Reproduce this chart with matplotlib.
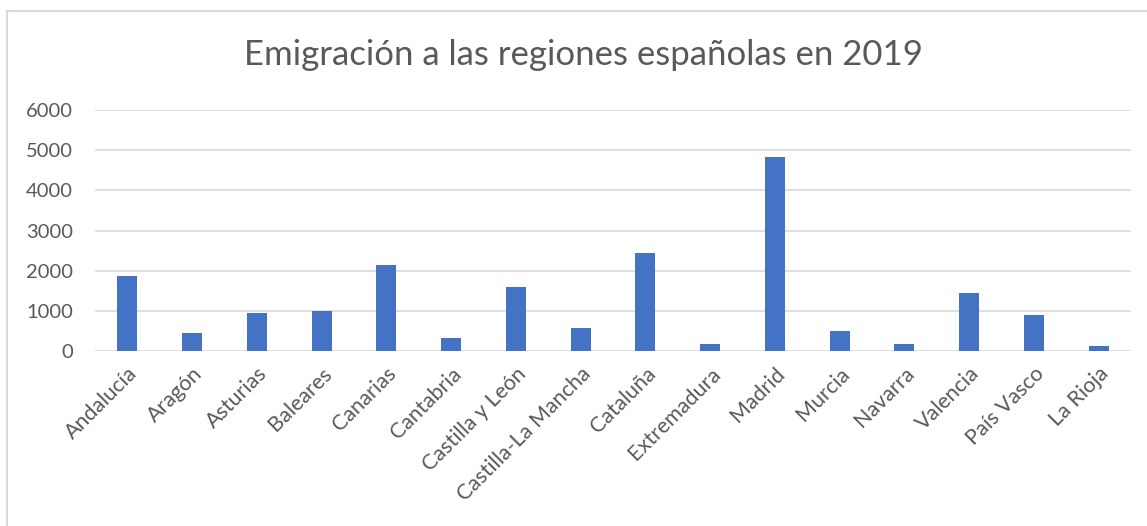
import numpy as np
import matplotlib.pyplot as plt
from matplotlib.lines import Line2D

regions = ['Andalucía', 'Aragón', 'Asturias', 'Baleares', 'Canarias', 'Cantabria',
           'Castilla y León', 'Castilla-La Mancha', 'Cataluña', 'Extremadura',
           'Madrid', 'Murcia', 'Navarra', 'Valencia', 'País Vasco', 'La Rioja']
emigrants = [1870, 440, 950, 1000, 2130, 330, 1590, 570,
             2440, 170, 4820, 510, 180, 1450, 890, 130]
yticks = [0, 1000, 2000, 3000, 4000, 5000, 6000]

plt.rcParams['font.family'] = ['Lato', 'DejaVu Sans']
text_color = '#595959'
W, H = 1147, 526

fig = plt.figure(figsize=(W / 100, H / 100), dpi=100)
ax = fig.add_axes([95 / W, 1 - 351 / H, (1131 - 95) / W, (351 - 110) / H])

x = np.arange(len(regions))
ax.bar(x, emigrants, width=0.31, color='#4472C4', zorder=3)

ax.set_xlim(-0.5, len(regions) - 0.5)
ax.set_ylim(0, 6000)
ax.set_yticks(yticks)
ax.set_yticklabels([str(t) for t in yticks], fontsize=14.5, color=text_color)
ax.set_xticks(x)
ax.set_xticklabels(regions, rotation=45, ha='right', rotation_mode='anchor',
                   fontsize=15.5, color=text_color)
ax.tick_params(axis='y', length=0, pad=16)
ax.tick_params(axis='x', length=0, pad=9)
ax.grid(axis='y', color='#d9d9d9', linewidth=1.2, zorder=0)
for s in ax.spines.values():
    s.set_visible(False)

fig.text(583 / W, 1 - 55 / H, 'Emigración a las regiones españolas en 2019',
         ha='center', va='center', fontsize=25, color=text_color)

# chart area border (only top and left visible in the crop)
fig.add_artist(Line2D([7 / W, 1.0], [1 - 11 / H, 1 - 11 / H],
                      transform=fig.transFigure, color='#d9d9d9', linewidth=1.5))
fig.add_artist(Line2D([7 / W, 7 / W], [0, 1 - 11 / H],
                      transform=fig.transFigure, color='#d9d9d9', linewidth=1.5))

fig.savefig('out.png', dpi=100)
